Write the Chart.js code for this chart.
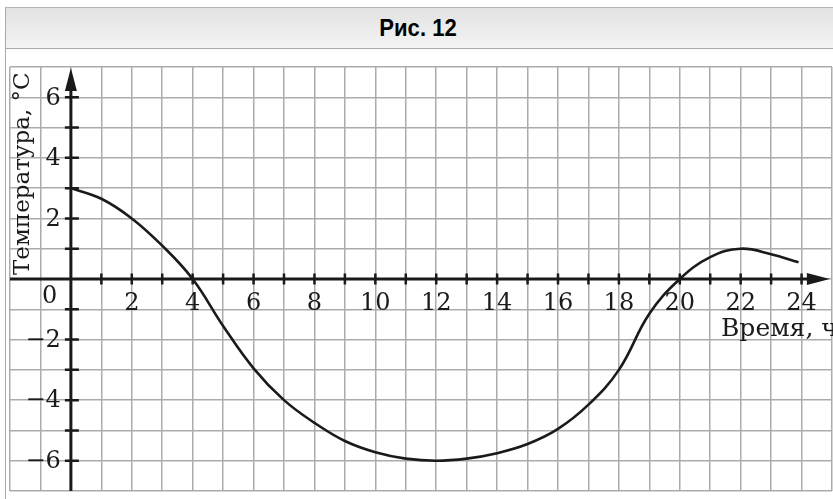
<!DOCTYPE html>
<html>
<head>
<meta charset="utf-8">
<script src="https://cdn.jsdelivr.net/npm/chart.js@4/dist/chart.umd.min.js"></script>
<style>
  html, body { margin: 0; padding: 0; background: #fff; }
  #wrap { position: relative; width: 833px; height: 499px; overflow: hidden; background: #fff; }
  #frame { position: absolute; left: 5px; top: 7px; width: 840px; height: 520px;
           border-left: 1.5px solid #a9a9a9; border-top: 1.5px solid #b5b5b5; }
  #head { position: absolute; left: 5px; top: 7px; width: 840px; height: 40px;
          border-left: 1.5px solid #a9a9a9; border-top: 1.5px solid #b5b5b5; border-bottom: 1.5px solid #a9a9a9;
          background: linear-gradient(#e2e2e2, #f4f4f4);
          font-family: "Liberation Sans Narrow", "Liberation Sans", Arial, sans-serif; font-weight: bold;
          font-size: 24px; line-height: 40px; }
  #head span { position: absolute; left: 412px; transform: translateX(-50%) scaleX(0.92); top: 0; }
  canvas { position: absolute; left: 0; top: 0; }
</style>
</head>
<body>
<div id="wrap">
  <div id="frame"></div>
  <div id="head"><span>Рис. 12</span></div>
  <canvas id="c" width="833" height="499"></canvas>
</div>
<script>
// Temperature over the day
const hours = [0, 1, 2, 3, 4, 5, 6, 7, 8, 9, 10, 11, 12, 13, 14, 15, 16, 17, 18, 19, 20, 21, 22, 23, 23.9];
const temps = [3.0, 2.65, 2.0, 1.1, 0, -1.55, -2.95, -4.0, -4.75, -5.35, -5.72, -5.93, -6.0, -5.93, -5.75, -5.45, -4.95, -4.15, -3.0, -1.15, 0, 0.72, 1.0, 0.82, 0.55];

const xTickLabels = ['2', '4', '6', '8', '10', '12', '14', '16', '18', '20', '22', '24'];
const xTickValues = [2, 4, 6, 8, 10, 12, 14, 16, 18, 20, 22, 24];
const yTickLabels = ['6', '4', '2', '\u22122', '\u22124', '\u22126'];
const yTickValues = [6, 4, 2, -2, -4, -6];

const yTitle = 'Температура, °C';
const xTitle = 'Время, ч';

const FONT = '"DejaVu Serif", "Liberation Serif", serif';

const axesPlugin = {
  id: 'schoolAxes',
  beforeDatasetsDraw(chart) {
    const ctx = chart.ctx;
    const xs = chart.scales.x, ys = chart.scales.y;
    const x0 = xs.getPixelForValue(0), y0 = ys.getPixelForValue(0);
    const left = xs.getPixelForValue(-2), bottom = ys.getPixelForValue(-7);
    const xTip = xs.getPixelForValue(24.93), yTip = ys.getPixelForValue(6.97);
    ctx.save();
    ctx.strokeStyle = '#1a1a1a';
    ctx.fillStyle = '#1a1a1a';
    ctx.lineWidth = 3;
    // vertical axis
    ctx.beginPath();
    ctx.moveTo(x0, bottom);
    ctx.lineTo(x0, yTip + 10);
    ctx.stroke();
    ctx.beginPath();
    ctx.moveTo(x0, yTip);
    ctx.lineTo(x0 - 6, yTip + 23);
    ctx.lineTo(x0 + 6, yTip + 23);
    ctx.closePath();
    ctx.fill();
    // horizontal axis
    ctx.beginPath();
    ctx.moveTo(left, y0);
    ctx.lineTo(xTip - 10, y0);
    ctx.stroke();
    ctx.beginPath();
    ctx.moveTo(xTip, y0);
    ctx.lineTo(xTip - 23, y0 - 6);
    ctx.lineTo(xTip - 23, y0 + 6);
    ctx.closePath();
    ctx.fill();
    // tick marks
    ctx.lineWidth = 2.5;
    ctx.beginPath();
    for (let h = 1; h <= 24; h++) {
      const px = xs.getPixelForValue(h);
      ctx.moveTo(px, y0 - 5.5);
      ctx.lineTo(px, y0 + 5.5);
    }
    for (let t = -6; t <= 6; t++) {
      if (t === 0) continue;
      const py = ys.getPixelForValue(t);
      ctx.moveTo(x0 - 6, py);
      ctx.lineTo(x0 + 8, py);
    }
    ctx.stroke();
    ctx.restore();
  },
  afterDatasetsDraw(chart) {
    const ctx = chart.ctx;
    const xs = chart.scales.x, ys = chart.scales.y;
    const x0 = xs.getPixelForValue(0), y0 = ys.getPixelForValue(0);
    ctx.save();
    ctx.fillStyle = '#1a1a1a';
    ctx.font = '24px ' + FONT;
    ctx.textAlign = 'center';
    ctx.textBaseline = 'alphabetic';
    xTickValues.forEach((v, i) => {
      ctx.fillText(xTickLabels[i], xs.getPixelForValue(v), y0 + 31);
    });
    ctx.fillText('0', xs.getPixelForValue(-0.7), y0 + 24);
    ctx.textAlign = 'right';
    ctx.textBaseline = 'middle';
    yTickValues.forEach((v, i) => {
      ctx.fillText(yTickLabels[i], x0 - 10, ys.getPixelForValue(v) + 1);
    });
    // axis titles
    ctx.textAlign = 'left';
    ctx.textBaseline = 'alphabetic';
    ctx.font = '25px ' + FONT;
    ctx.fillText(xTitle, 721, y0 + 57);
    ctx.save();
    ctx.translate(29, y0 - 4);
    ctx.rotate(-Math.PI / 2);
    ctx.font = '23px ' + FONT;
    ctx.fillText(yTitle, 0, 0);
    ctx.restore();
    ctx.restore();
  }
};

new Chart(document.getElementById('c'), {
  type: 'line',
  data: {
    datasets: [{
      data: hours.map((h, i) => ({ x: h, y: temps[i] })),
      borderColor: '#1a1a1a',
      borderWidth: 2.6,
      pointRadius: 0,
      fill: false,
      tension: 0.4
    }]
  },
  options: {
    responsive: false,
    animation: false,
    layout: { padding: { left: 10, right: 1, top: 67, bottom: 8 } },
    plugins: { legend: { display: false }, tooltip: { enabled: false }, title: { display: false } },
    scales: {
      x: {
        type: 'linear', min: -2, max: 25,
        ticks: { display: false, stepSize: 1 },
        grid: { color: '#ababab', lineWidth: 1.5, drawTicks: false },
        border: { display: false }
      },
      y: {
        type: 'linear', min: -7, max: 7,
        ticks: { display: false, stepSize: 1 },
        grid: { color: '#ababab', lineWidth: 1.5, drawTicks: false },
        border: { display: false }
      }
    }
  },
  plugins: [axesPlugin]
});
</script>
</body>
</html>
